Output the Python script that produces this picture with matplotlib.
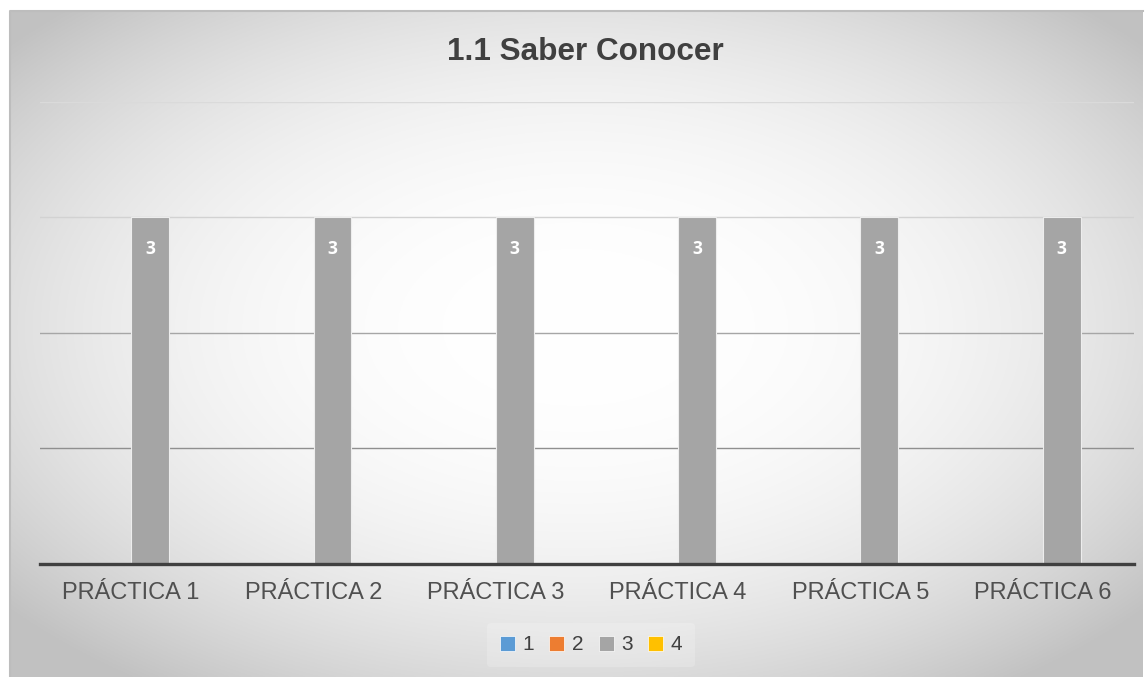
import numpy as np
import matplotlib.pyplot as plt
from matplotlib.patches import Patch

categorias = ['PRÁCTICA 1', 'PRÁCTICA 2', 'PRÁCTICA 3', 'PRÁCTICA 4', 'PRÁCTICA 5', 'PRÁCTICA 6']
series = ['1', '2', '3', '4']
valores = {
    '1': [0, 0, 0, 0, 0, 0],
    '2': [0, 0, 0, 0, 0, 0],
    '3': [3, 3, 3, 3, 3, 3],
    '4': [0, 0, 0, 0, 0, 0],
}
colores = ['#5B9BD5', '#ED7D31', '#A5A5A5', '#FFC000']

W, H = 1147, 677
fig = plt.figure(figsize=(W / 100, H / 100), dpi=100)
fig.patch.set_facecolor('white')

# area del grafico con degradado radial
x0, y0, x1, y1 = 10, 11, 1143, 677
bg = fig.add_axes([x0 / W, 1 - y1 / H, (x1 - x0) / W, (y1 - y0) / H])
gx, gy = np.meshgrid(np.linspace(-1, 1, 600), np.linspace(-1, 1, 360))
r = np.sqrt(gx ** 2 + (gy + 0.05) ** 2)
v = 1 - 0.125 * np.clip(r, 0, None) ** 2.4
v = np.clip(v, 0.76, 1)
bg.imshow(np.dstack([v, v, v]), extent=[0, 1, 0, 1], aspect='auto', origin='upper')
bg.set_xlim(0, 1)
bg.set_ylim(0, 1)
bg.axis('off')
bg.plot([0, 0, 1], [0, 1, 1], color='#BDBDBD', lw=1.5, transform=bg.transAxes, clip_on=False)

ax = fig.add_axes([40 / W, 1 - 563.5 / H, 1094 / W, 461.5 / H])
ax.patch.set_alpha(0)
x = np.arange(len(categorias))
ancho = 0.208
for i, s in enumerate(series):
    pos = x + (i - 1.5) * ancho
    vals = valores[s]
    bars = ax.bar(pos, vals, width=ancho, color=colores[i], edgecolor='#EDEDED', linewidth=0.8, zorder=3)
    for b, val in zip(bars, vals):
        if val > 0:
            ax.annotate(str(val), (b.get_x() + b.get_width() / 2, val), xytext=(0, -22.5),
                        textcoords='offset points', ha='center', va='center',
                        color='white', fontsize=12.5, fontweight='bold', family='Open Sans', zorder=4)

grid_colors = ['#DADADA', '#D2D2D2', '#A6A6A6', '#8F8F8F']
for yv, gc in zip([4, 3, 2, 1], grid_colors):
    ax.axhline(yv, color=gc, lw=1.0, zorder=1)

ax.set_xlim(-0.5, len(categorias) - 0.5)
ax.set_ylim(0, 4)
ax.set_yticks([])
for sp in ['top', 'right', 'left']:
    ax.spines[sp].set_visible(False)
ax.spines['bottom'].set_color('#404040')
ax.spines['bottom'].set_linewidth(2.4)
ax.spines['bottom'].set_zorder(5)
ax.set_xticks(x)
ax.set_xticklabels(categorias, fontsize=17, color='#505050', family='Liberation Sans')
ax.tick_params(axis='x', length=0, pad=13)

fig.text(585 / W, 1 - 52 / H, '1.1 Saber Conocer', ha='center', va='center',
         fontsize=22.7, fontweight='bold', color='#404040', family='Liberation Sans')

handles = [Patch(facecolor=c, edgecolor='white', linewidth=0.5) for c in colores]
leg = fig.legend(handles, series, loc='center', bbox_to_anchor=(591 / W, 1 - 645 / H), ncol=4,
                 frameon=True, handlelength=0.72, handleheight=0.72,
                 handletextpad=0.35, columnspacing=0.75, borderpad=0.6,
                 prop={'family': 'Liberation Sans', 'size': 15})
leg.get_frame().set_facecolor('white')
leg.get_frame().set_alpha(0.2)
leg.get_frame().set_edgecolor('none')
for t in leg.get_texts():
    t.set_color('#404040')

fig.savefig('out.png', dpi=100)
